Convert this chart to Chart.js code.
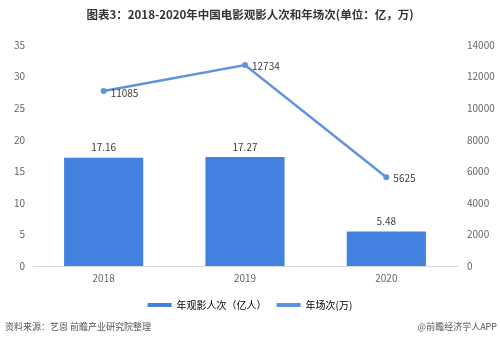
<!DOCTYPE html>
<html>
<head>
<meta charset="utf-8">
<script src="https://cdn.jsdelivr.net/npm/chart.js@4/dist/chart.umd.min.js"></script>
<style>
  html, body { margin: 0; padding: 0; background: #fff; }
  #wrap { position: relative; width: 500px; height: 345px; }
</style>
</head>
<body>
<div id="wrap"><canvas id="movieChart" width="500" height="345"></canvas></div>
<script>
// categories and series
const years = ['2018', '2019', '2020'];
const audience = [17.16, 17.27, 5.48];      // 年观影人次（亿人）
const screenings = [11085, 12734, 5625];    // 年场次(万)
const leftTicks = [0, 5, 10, 15, 20, 25, 30, 35];
const rightTicks = [0, 2000, 4000, 6000, 8000, 10000, 12000, 14000];

const titleText = '图表3：2018-2020年中国电影观影人次和年场次(单位：亿，万)';
const sourceText = '资料来源：艺恩 前瞻产业研究院整理';
const brandText = '@前瞻经济学人APP';

const barColor = '#4281df';
const lineColor = '#5f93dd';
const tickColor = '#666666';
const cjk = '"Noto Sans CJK SC", "Microsoft YaHei", sans-serif';

// title, footer and value labels
const decorations = {
  id: 'decorations',
  afterDraw(chart) {
    const ctx = chart.ctx;
    ctx.save();
    ctx.fillStyle = '#333';
    ctx.font = 'bold 11.5px ' + cjk;
    ctx.textAlign = 'center';
    ctx.textBaseline = 'middle';
    ctx.fillText(titleText, 250, 15);

    ctx.font = '9px ' + cjk;
    ctx.fillStyle = '#555';
    ctx.textAlign = 'left';
    ctx.fillText(sourceText, 5, 327);
    ctx.textAlign = 'right';
    ctx.fillText(brandText, 497, 327);

    ctx.font = '10px ' + cjk;
    ctx.fillStyle = '#404040';
    const bars = chart.getDatasetMeta(1).data;
    ctx.textAlign = 'center';
    ctx.textBaseline = 'bottom';
    bars.forEach((b, i) => ctx.fillText(audience[i].toFixed(2), b.x, b.y - 5));

    const pts = chart.getDatasetMeta(0).data;
    ctx.textAlign = 'left';
    ctx.textBaseline = 'middle';
    pts.forEach((p, i) => ctx.fillText(String(screenings[i]), p.x + 7, p.y + (i === 0 ? 2 : 1)));
    ctx.restore();
  }
};

new Chart(document.getElementById('movieChart'), {
  data: {
    labels: years,
    datasets: [
      {
        type: 'line',
        label: '年场次(万)',
        data: screenings,
        yAxisID: 'y1',
        borderColor: lineColor,
        backgroundColor: lineColor,
        borderWidth: 2.5,
        pointRadius: 3,
        pointBackgroundColor: lineColor,
        pointBorderWidth: 0,
        tension: 0,
        order: 0
      },
      {
        type: 'bar',
        label: '年观影人次（亿人）',
        data: audience,
        yAxisID: 'y',
        backgroundColor: barColor,
        categoryPercentage: 0.56,
        barPercentage: 1,
        order: 1
      }
    ]
  },
  options: {
    responsive: false,
    animation: false,
    layout: { padding: { top: 45, bottom: 25, left: 0, right: 0 } },
    plugins: {
      title: { display: false },
      tooltip: { enabled: false },
      legend: {
        position: 'bottom',
        reverse: true,
        labels: {
          color: '#555',
          font: { family: cjk, size: 10 },
          boxWidth: 24,
          boxHeight: 4,
          padding: 10,
          generateLabels(chart) {
            return chart.data.datasets.map((ds, i) => ({
              text: ds.label,
              fillStyle: ds.type === 'bar' ? barColor : lineColor,
              strokeStyle: ds.type === 'bar' ? barColor : lineColor,
              lineWidth: 0,
              datasetIndex: i,
              hidden: false
            }));
          }
        }
      }
    },
    scales: {
      x: {
        grid: { display: false, drawTicks: false },
        border: { color: '#d9d9d9', width: 1 },
        ticks: { color: tickColor, font: { family: cjk, size: 10 }, padding: 6 }
      },
      y: {
        position: 'left',
        min: 0,
        max: 35,
        afterBuildTicks(scale) { scale.ticks = leftTicks.map(v => ({ value: v })); },
        afterFit(scale) { scale.width = 33; },
        grid: { display: false, drawTicks: false },
        border: { display: false },
        ticks: { color: tickColor, font: { family: cjk, size: 10 }, padding: 8 }
      },
      y1: {
        position: 'right',
        min: 0,
        max: 14000,
        afterBuildTicks(scale) { scale.ticks = rightTicks.map(v => ({ value: v })); },
        afterFit(scale) { scale.width = 43; },
        grid: { display: false, drawTicks: false },
        border: { display: false },
        ticks: {
          color: tickColor,
          font: { family: cjk, size: 10 },
          padding: 10,
          callback: v => String(v)
        }
      }
    }
  },
  plugins: [decorations]
});
</script>
</body>
</html>
